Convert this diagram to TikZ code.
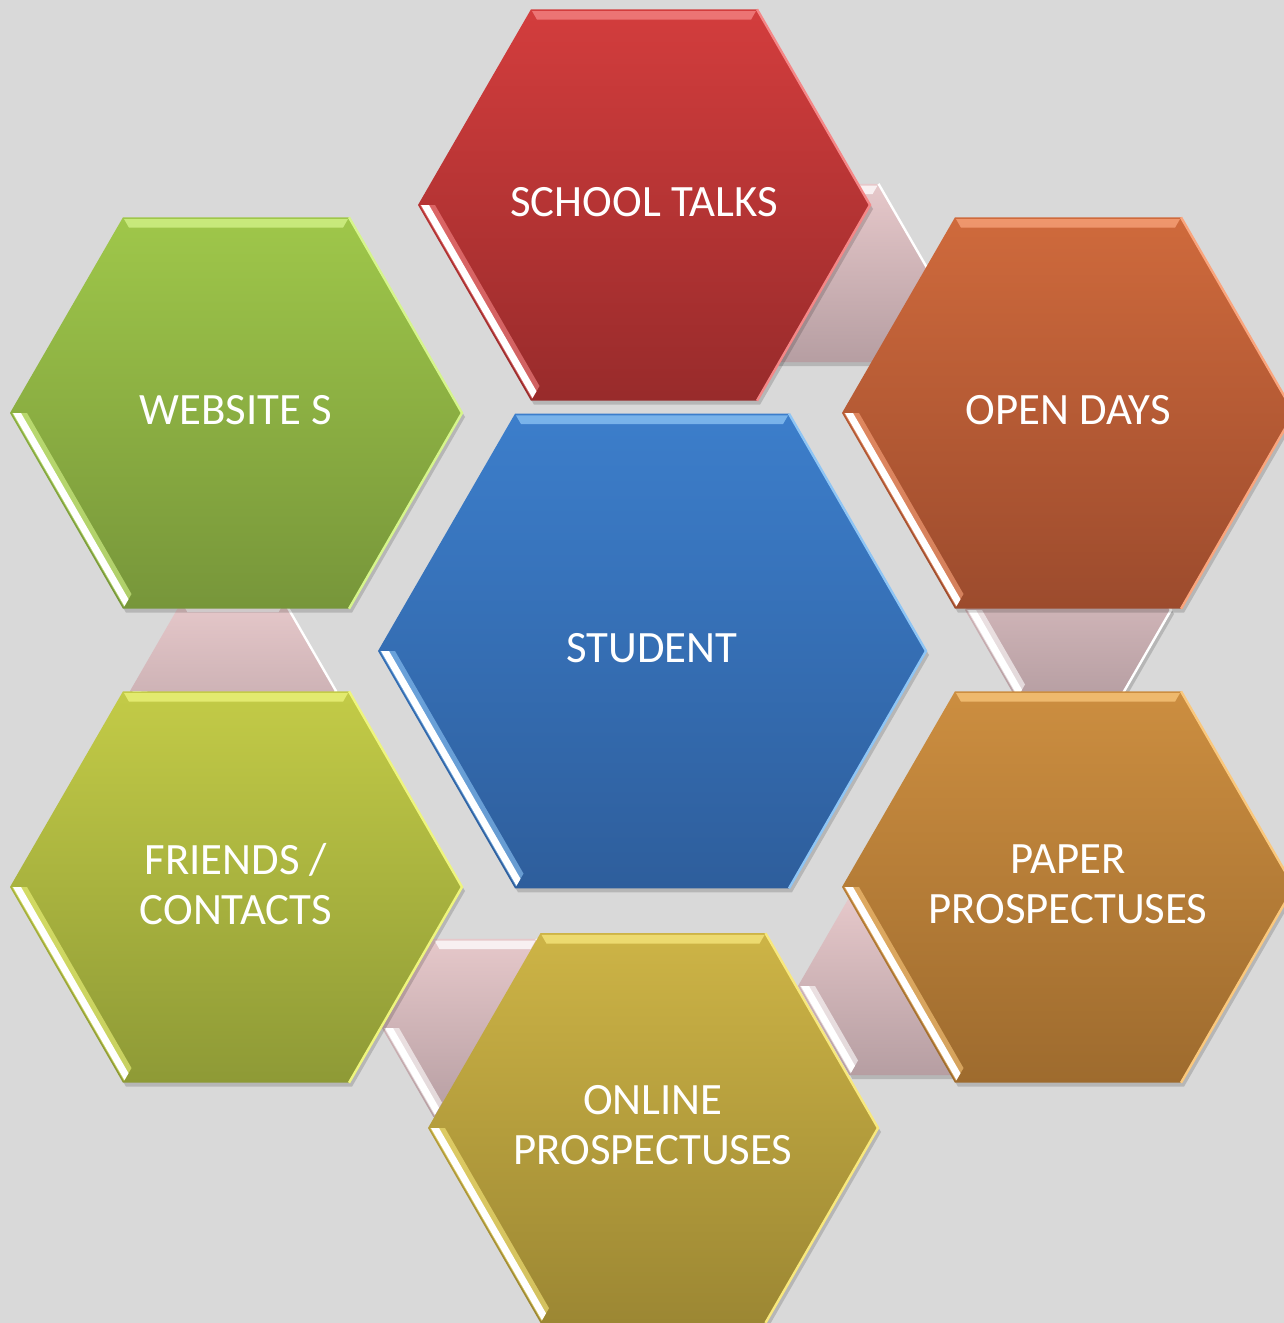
\documentclass[tikz,border=0pt]{standalone}
\usepackage{fontspec}
\setmainfont{Carlito}
\usetikzlibrary{calc}

\definecolor{bggray}{RGB}{217,217,217}
\definecolor{pinkT}{RGB}{230,200,202}
\definecolor{pinkB}{RGB}{182,158,162}
\definecolor{redT}{RGB}{211,61,61}
\definecolor{redB}{RGB}{152,43,43}
\definecolor{redL}{RGB}{245,135,135}
\definecolor{oraT}{RGB}{207,106,60}
\definecolor{oraB}{RGB}{156,75,45}
\definecolor{oraL}{RGB}{250,165,125}
\definecolor{papT}{RGB}{204,142,64}
\definecolor{papB}{RGB}{158,107,46}
\definecolor{papL}{RGB}{250,200,125}
\definecolor{onlT}{RGB}{205,180,70}
\definecolor{onlB}{RGB}{156,135,51}
\definecolor{onlL}{RGB}{248,232,125}
\definecolor{friT}{RGB}{195,203,71}
\definecolor{friB}{RGB}{142,154,54}
\definecolor{friL}{RGB}{238,245,125}
\definecolor{webT}{RGB}{159,199,74}
\definecolor{webB}{RGB}{119,150,58}
\definecolor{webL}{RGB}{214,245,140}
\definecolor{stuT}{RGB}{60,126,203}
\definecolor{stuB}{RGB}{46,94,156}
\definecolor{stuL}{RGB}{142,197,245}

% bevelled hexagon: name, centre, radius, top colour, bottom colour, light colour
\newcommand{\hexcell}[6]{%
  \coordinate (#1) at (#2);
  \fill[black, opacity=0.16] ($(#1)+(3,4)$) +(0:#3) -- +(60:#3) -- +(120:#3) -- +(180:#3) -- +(240:#3) -- +(300:#3) -- cycle;
  \path[top color=#4, bottom color=#5] (#1) +(0:#3) -- +(60:#3) -- +(120:#3) -- +(180:#3) -- +(240:#3) -- +(300:#3) -- cycle;
  \fill[#6, opacity=0.75] (#1) +(240:{#3-2}) -- +(300:{#3-2}) -- +(300:{#3-12}) -- +(240:{#3-12}) -- cycle;
  \fill[#6, opacity=0.6] (#1) +(180:{#3-2}) -- +(120:{#3-2}) -- +(120:{#3-17}) -- +(180:{#3-17}) -- cycle;
  \fill[white] (#1) +(180:{#3-3}) -- +(120:{#3-3}) -- +(120:{#3-11}) -- +(180:{#3-11}) -- cycle;
  \draw[#6, line width=1.2pt] (#1) +(300:#3) -- +(0:#3) -- +(60:#3);
}

\begin{document}
\begin{tikzpicture}[x=0.5pt, y=-0.5pt,
  label/.style={text=white, align=center, inner sep=0pt, yshift=1.5pt, font=\fontsize{22.4}{25}\selectfont}]
  \useasboundingbox (0,0) rectangle (1284,1323);
  \clip (0,0) rectangle (1284,1323);
  \fill[bggray] (0,0) rectangle (1284,1323);
  % Links behind
  \hexcell{linkA}{827,273}{103}{pinkT}{pinkB}{white}
  \hexcell{linkB}{1068,610}{103}{pinkT}{pinkB}{white}
  \hexcell{linkC}{901,986}{103}{pinkT}{pinkB}{white}
  \hexcell{linkD}{485,1028}{103}{pinkT}{pinkB}{white}
  \hexcell{linkE}{233,691}{103}{pinkT}{pinkB}{white}
  % Hexagons
  \hexcell{talksHex}{644,205}{226}{redT}{redB}{redL}
  \hexcell{openHex}{1068,413}{226}{oraT}{oraB}{oraL}
  \hexcell{paperHex}{1068,887}{226}{papT}{papB}{papL}
  \hexcell{onlineHex}{653,1128}{225}{onlT}{onlB}{onlL}
  \hexcell{friendsHex}{236,887}{226}{friT}{friB}{friL}
  \hexcell{webHex}{236,413}{226}{webT}{webB}{webL}
  \hexcell{studentHex}{652,651}{274}{stuT}{stuB}{stuL}
  % Labels
  \node[label] (talks) at (talksHex) {SCHOOL TALKS};
  \node[label] (open) at (openHex) {OPEN DAYS};
  \node[label] (paper) at (paperHex) {PAPER\\PROSPECTUSES};
  \node[label] (online) at (onlineHex) {ONLINE\\PROSPECTUSES};
  \node[label] (friends) at (friendsHex) {FRIENDS /\\CONTACTS};
  \node[label] (web) at (webHex) {WEBSITE S};
  \node[label] (student) at (studentHex) {STUDENT};
\end{tikzpicture}
\end{document}
